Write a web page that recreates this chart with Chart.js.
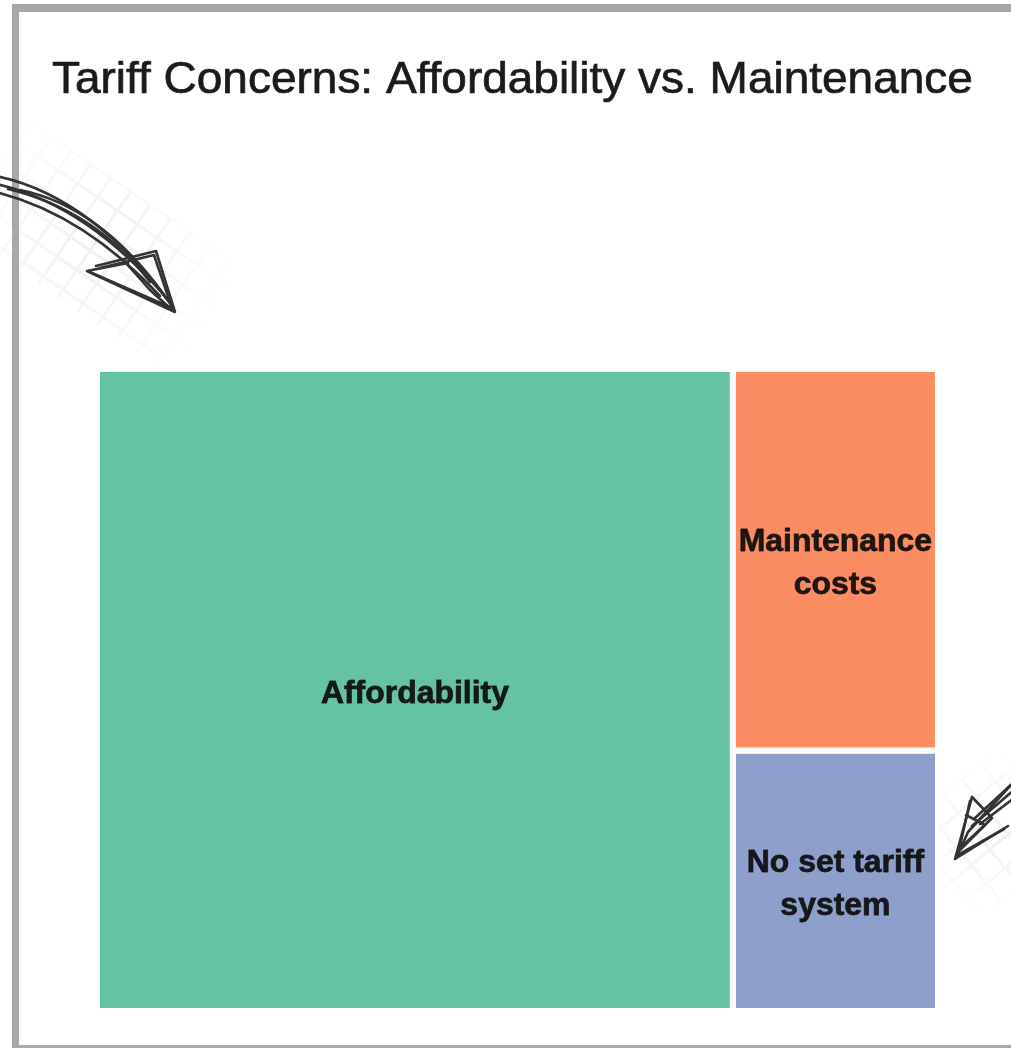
<!DOCTYPE html>
<html>
<head>
<meta charset="utf-8">
<title>Tariff Concerns</title>
<script src="https://cdn.jsdelivr.net/npm/chart.js@4.4.1/dist/chart.umd.min.js"></script>
<style>
  html, body { margin: 0; padding: 0; background: #fff; overflow: hidden; }
  canvas { display: block; }
</style>
</head>
<body>
<canvas id="treeChart" width="1011" height="1048"></canvas>
<script>
const chartTitle = 'Tariff Concerns: Affordability vs. Maintenance';
const categories = ['Affordability', 'Maintenance costs', 'No set tariff system'];
const shares = [75.6, 14.5, 9.9];
const labelLines = [['Affordability'], ['Maintenance', 'costs'], ['No set tariff', 'system']];
const colours = ['#66c2a5', '#fc8d62', '#8da0cb'];

// plot box for the treemap, in the same units as the canvas
const PAD = { left: 97, right: 73, top: 369, bottom: 37 };
const TREE_W = 1011 - PAD.left - PAD.right;
const TREE_H = 1048 - PAD.top - PAD.bottom;

function sum(arr) { return arr.reduce((a, b) => a + b, 0); }

function worst(row, side) {
  const s = sum(row);
  return Math.max(...row.map(a => Math.max(side * side * a / (s * s), (s * s) / (side * side * a))));
}

// squarified layout, y measured from the top
function squarify(values, x, y, w, h) {
  const total = sum(values);
  const areas = values.map(v => v / total * w * h);
  const rects = [];
  let i = 0;
  while (i < areas.length) {
    const side = Math.min(w, h);
    const row = [areas[i]];
    let j = i + 1;
    while (j < areas.length && worst(row.concat(areas[j]), side) <= worst(row, side)) {
      row.push(areas[j]);
      j++;
    }
    const thick = sum(row) / side;
    let off = 0;
    row.forEach(a => {
      const len = a / thick;
      if (w >= h) rects.push({ x0: x, x1: x + thick, y0: y + off, y1: y + off + len });
      else rects.push({ x0: x + off, x1: x + off + len, y0: y, y1: y + thick });
      off += len;
    });
    if (w >= h) { x += thick; w -= thick; } else { y += thick; h -= thick; }
    i = j;
  }
  return rects;
}

const rects = squarify(shares, 0, 0, TREE_W, TREE_H);

function corners(r) {
  return [
    { x: r.x0, y: r.y0 }, { x: r.x1, y: r.y0 },
    { x: r.x1, y: r.y1 }, { x: r.x0, y: r.y1 }, { x: r.x0, y: r.y0 }
  ];
}

function gridBand(ctx, cx, cy, angle, w, h) {
  ctx.save();
  ctx.translate(cx, cy);
  ctx.rotate(angle);
  ctx.beginPath();
  ctx.rect(-w / 2, -h / 2, w, h);
  ctx.clip();
  const g = ctx.createRadialGradient(0, 0, 10, 0, 0, Math.max(w, h) / 2);
  g.addColorStop(0, 'rgba(0,0,0,0.06)');
  g.addColorStop(1, 'rgba(0,0,0,0.0)');
  ctx.strokeStyle = g;
  ctx.lineWidth = 3;
  ctx.beginPath();
  for (let gx = -w / 2; gx <= w / 2; gx += 24) { ctx.moveTo(gx, -h / 2); ctx.lineTo(gx, h / 2); }
  for (let gy = -h / 2; gy <= h / 2; gy += 24) { ctx.moveTo(-w / 2, gy); ctx.lineTo(w / 2, gy); }
  ctx.stroke();
  ctx.restore();
}

function polyline(ctx, pts) {
  ctx.beginPath();
  ctx.moveTo(pts[0][0], pts[0][1]);
  for (let k = 1; k < pts.length; k++) ctx.lineTo(pts[k][0], pts[k][1]);
  ctx.stroke();
}

function curve(ctx, a, c, b) {
  ctx.beginPath();
  ctx.moveTo(a[0], a[1]);
  ctx.quadraticCurveTo(c[0], c[1], b[0], b[1]);
  ctx.stroke();
}

// frame, faint grid patches and the hand-drawn arrows
const decor = {
  id: 'decor',
  beforeDraw(chart) {
    const ctx = chart.ctx;
    ctx.save();
    ctx.fillStyle = '#ffffff';
    ctx.fillRect(0, 0, chart.width, chart.height);
    gridBand(ctx, 95, 245, 0.6, 290, 130);
    gridBand(ctx, 992, 832, -0.7, 170, 120);
    ctx.fillStyle = '#aaa7a7';
    ctx.fillRect(12, 4, chart.width - 12, 8);
    ctx.fillRect(12, 4, 7, chart.height - 4);
    ctx.fillRect(12, 1045, chart.width - 12, 3);
    ctx.restore();
  },
  afterDraw(chart) {
    const ctx = chart.ctx;
    ctx.save();
    ctx.strokeStyle = '#333333';
    ctx.lineWidth = 2.6;
    ctx.lineJoin = 'round';
    ctx.lineCap = 'round';
    curve(ctx, [-4, 176], [92, 196], [172, 306]);
    curve(ctx, [-4, 184], [88, 205], [168, 300]);
    curve(ctx, [-4, 192], [84, 214], [160, 296]);
    curve(ctx, [8, 189], [95, 210], [150, 282]);
    curve(ctx, [20, 190], [100, 206], [165, 296]);
    polyline(ctx, [[96, 266], [156, 251], [175, 312], [87, 271], [128, 263]]);
    polyline(ctx, [[100, 268], [154, 255], [172, 308], [92, 273]]);
    polyline(ctx, [[125, 262], [150, 290], [172, 310]]);
    polyline(ctx, [[1014, 782], [975, 818]]);
    polyline(ctx, [[1014, 790], [972, 826]]);
    polyline(ctx, [[1014, 798], [980, 824]]);
    polyline(ctx, [[1010, 786], [968, 832], [960, 850]]);
    polyline(ctx, [[972, 797], [955, 859], [1008, 826]]);
    polyline(ctx, [[970, 801], [958, 855], [1004, 829]]);
    polyline(ctx, [[972, 797], [992, 818], [958, 852]]);
    polyline(ctx, [[966, 815], [985, 825], [960, 848]]);
    ctx.restore();

    ctx.save();
    ctx.fillStyle = '#1b1b1b';
    ctx.strokeStyle = '#1b1b1b';
    ctx.lineWidth = 0.7;
    ctx.font = '44px "Liberation Sans", Arial, sans-serif';
    ctx.textBaseline = 'alphabetic';
    ctx.translate(52, 93);
    ctx.scale(1.045, 1);
    ctx.fillText(chartTitle, 0, 0);
    ctx.strokeText(chartTitle, 0, 0);
    ctx.restore();
  }
};

// category names centred in each tile
const tileLabels = {
  id: 'tileLabels',
  afterDatasetsDraw(chart) {
    const ctx = chart.ctx;
    const xs = chart.scales.x, ys = chart.scales.y;
    const lineH = 43;
    ctx.save();
    ctx.fillStyle = 'rgba(12,12,12,0.92)';
    ctx.strokeStyle = 'rgba(12,12,12,0.8)';
    ctx.lineWidth = 0.8;
    ctx.font = 'bold 31px "Liberation Sans", Arial, sans-serif';
    ctx.textAlign = 'center';
    ctx.textBaseline = 'middle';
    rects.forEach((r, i) => {
      const cx = xs.getPixelForValue((r.x0 + r.x1) / 2);
      const cy = ys.getPixelForValue((r.y0 + r.y1) / 2) + 4;
      const lines = labelLines[i];
      lines.forEach((t, k) => {
        const y = cy + (k - (lines.length - 1) / 2) * lineH;
        ctx.save();
        ctx.translate(cx, y);
        ctx.scale(1.03, 1);
        ctx.fillText(t, 0, 0);
        ctx.strokeText(t, 0, 0);
        ctx.restore();
      });
    });
    ctx.restore();
  }
};

const ctx = document.getElementById('treeChart').getContext('2d');
new Chart(ctx, {
  type: 'scatter',
  data: {
    datasets: categories.map((name, i) => ({
      label: name,
      data: corners(rects[i]),
      showLine: true,
      fill: 'shape',
      backgroundColor: colours[i],
      borderColor: '#ffffff',
      borderWidth: 6,
      borderJoinStyle: 'miter',
      pointRadius: 0,
      pointHoverRadius: 0,
      tension: 0
    }))
  },
  options: {
    responsive: false,
    animation: false,
    events: [],
    layout: { padding: PAD },
    scales: {
      x: { type: 'linear', display: false, min: 0, max: TREE_W },
      y: { type: 'linear', display: false, min: 0, max: TREE_H, reverse: true }
    },
    plugins: {
      legend: { display: false },
      tooltip: { enabled: false }
    }
  },
  plugins: [decor, tileLabels]
});
</script>
</body>
</html>
